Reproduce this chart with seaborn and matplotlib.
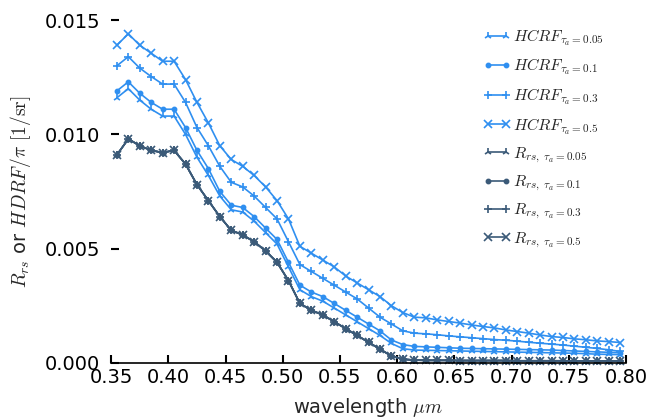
import numpy as np
import pandas as pd
import matplotlib
matplotlib.use("Agg")
import matplotlib.pyplot as plt
import seaborn as sns

wavelength = [0.355, 0.365, 0.375, 0.385, 0.395, 0.405, 0.415, 0.425, 0.435, 0.445,
              0.455, 0.465, 0.475, 0.485, 0.495, 0.505, 0.515, 0.525, 0.535, 0.545,
              0.555, 0.565, 0.575, 0.585, 0.595, 0.605, 0.615, 0.625, 0.635, 0.645,
              0.655, 0.665, 0.675, 0.685, 0.695, 0.705, 0.715, 0.725, 0.735, 0.745,
              0.755, 0.765, 0.775, 0.785, 0.795]

hcrf_005 = [0.0116, 0.0120, 0.0115, 0.0111, 0.0108, 0.0108, 0.0100, 0.0090, 0.0082, 0.0073,
            0.0067, 0.0066, 0.0062, 0.0057, 0.0052, 0.0042, 0.0032, 0.0029, 0.0027, 0.0024,
            0.0021, 0.0018, 0.0015, 0.0012, 0.00085, 0.00062, 0.00056, 0.00055, 0.00054, 0.00053,
            0.00052, 0.00051, 0.00050, 0.00049, 0.00048, 0.00047, 0.00046, 0.00045, 0.00044, 0.00043,
            0.00042, 0.00040, 0.00038, 0.00037, 0.00036]
hcrf_01 = [0.0119, 0.0123, 0.0118, 0.0114, 0.0111, 0.0111, 0.0103, 0.0093, 0.0085, 0.0075,
           0.0069, 0.0068, 0.0064, 0.0059, 0.0054, 0.0044, 0.0034, 0.0031, 0.0029, 0.0026,
           0.0023, 0.0020, 0.0017, 0.0014, 0.0010, 0.0008, 0.00072, 0.00070, 0.00068, 0.00066,
           0.00064, 0.00063, 0.00062, 0.00061, 0.00060, 0.00059, 0.00058, 0.00057, 0.00056, 0.00054,
           0.00052, 0.00050, 0.00048, 0.00046, 0.00044]
hcrf_03 = [0.0130, 0.0134, 0.0129, 0.01253, 0.0122, 0.0122, 0.0114, 0.0103, 0.0095, 0.0086,
           0.0079, 0.0077, 0.0073, 0.0068, 0.0063, 0.0053, 0.0043, 0.0040, 0.0037, 0.0034,
           0.0031, 0.0028, 0.0024, 0.0020, 0.0017, 0.0014, 0.0013, 0.00127, 0.00123, 0.00118,
           0.00114, 0.00110, 0.00106, 0.00102, 0.00099, 0.00095, 0.00090, 0.00086, 0.00082, 0.00078,
           0.00073, 0.00068, 0.00063, 0.00057, 0.00050]
hcrf_05 = [0.0139, 0.0144, 0.0139, 0.01355, 0.0132, 0.0132, 0.0124, 0.0114, 0.0105, 0.0095,
           0.0089, 0.0086, 0.0082, 0.0077, 0.0071, 0.0063, 0.0051, 0.0048, 0.0045, 0.0042,
           0.0038, 0.0035, 0.0032, 0.0029, 0.0025, 0.0022, 0.0020, 0.00197, 0.00188, 0.00181,
           0.00174, 0.00166, 0.00159, 0.00153, 0.00144, 0.00137, 0.00130, 0.00122, 0.00115, 0.00111,
           0.00105, 0.00101, 0.00096, 0.00093, 0.00089]
rrs = [0.0091, 0.0098, 0.0095, 0.0093, 0.0092, 0.0093, 0.0087, 0.0078, 0.0071, 0.0064,
       0.0058, 0.0056, 0.0053, 0.0049, 0.0044, 0.0036, 0.0026, 0.0023, 0.0021, 0.0018,
       0.0015, 0.0012, 0.0009, 0.0006, 0.0003, 0.00016, 0.00012, 0.00011, 0.00011, 0.00011,
       0.00010, 0.00010, 0.00010, 0.00010, 0.00010, 0.00009, 0.00009, 0.00009, 0.00009, 0.00009,
       0.00008, 0.00008, 0.00008, 0.00008, 0.00008]

taus = ["0.05", "0.1", "0.3", "0.5"]
markers = ["2", ".", "+", "x"]
hcrf_series = [hcrf_005, hcrf_01, hcrf_03, hcrf_05]
rrs_series = [rrs, rrs, rrs, rrs]
xtick_vals = [0.35, 0.40, 0.45, 0.50, 0.55, 0.60, 0.65, 0.70, 0.75, 0.80]
xtick_labels = ["0.35", "0.40", "0.45", "0.50", "0.55", "0.60", "0.65", "0.70", "0.75", "0.80"]
ytick_vals = [0.0, 0.005, 0.010, 0.015]
ytick_labels = ["0.000", "0.005", "0.010", "0.015"]

light = "#2f8ff0"
dark = "#3b5a78"

sns.set_style("ticks")
plt.rcParams["mathtext.fontset"] = "cm"
plt.rcParams["font.family"] = ["DejaVu Sans"]
plt.rcParams["xtick.direction"] = "in"
plt.rcParams["ytick.direction"] = "in"

fig = plt.figure(figsize=(6.5, 4.19), dpi=100)
ax = fig.add_axes([0.171, 0.134, 0.792, 0.818])

for tau, m, ys in zip(taus, markers, hcrf_series):
    sns.lineplot(x=wavelength, y=ys, ax=ax, color=light, marker=m, markersize=6,
                 markeredgecolor=light, markerfacecolor=light, markeredgewidth=1.2,
                 linewidth=1.2, label=r"$HCRF_{\tau_a=%s}$" % tau, clip_on=False)
for tau, m, ys in zip(taus, markers, rrs_series):
    sns.lineplot(x=wavelength, y=ys, ax=ax, color=dark, marker=m, markersize=6,
                 markeredgecolor=dark, markerfacecolor=dark, markeredgewidth=1.2,
                 linewidth=1.2, label=r"$R_{rs,\ \tau_a=%s}$" % tau, clip_on=False)

ax.set_xlim(0.35, 0.80)
ax.set_ylim(0, 0.015)
ax.set_xticks(xtick_vals)
ax.set_xticklabels(xtick_labels)
ax.set_yticks(ytick_vals)
ax.set_yticklabels(ytick_labels)
for s in ["top", "right", "left"]:
    ax.spines[s].set_visible(False)
ax.spines["bottom"].set_linewidth(1.2)
ax.spines["bottom"].set_color("black")

ax.set_xlabel(r"wavelength $\mu m$", fontsize=14, labelpad=6)
ax.set_ylabel(r"$R_{rs}$ or $HDRF/\pi$ $[1/\mathrm{sr}]$", fontsize=14, labelpad=8)

handles, labels = ax.get_legend_handles_labels()
leg = ax.legend(handles[:8], labels[:8], loc="upper right", frameon=False,
                fontsize=11.5, numpoints=2, labelspacing=0.56, handlelength=1.7,
                handletextpad=0.15, bbox_to_anchor=(0.985, 1.021))

ax.tick_params(axis="x", which="major", direction="in", length=5.5, width=1.5,
               color="black", labelsize=14, labelcolor="black", pad=4,
               bottom=True, top=False)
ax.tick_params(axis="y", which="major", direction="in", length=6, width=1.5,
               color="black", labelsize=14, labelcolor="black", pad=8,
               left=True, right=False)

fig.savefig("out.png", dpi=100)
